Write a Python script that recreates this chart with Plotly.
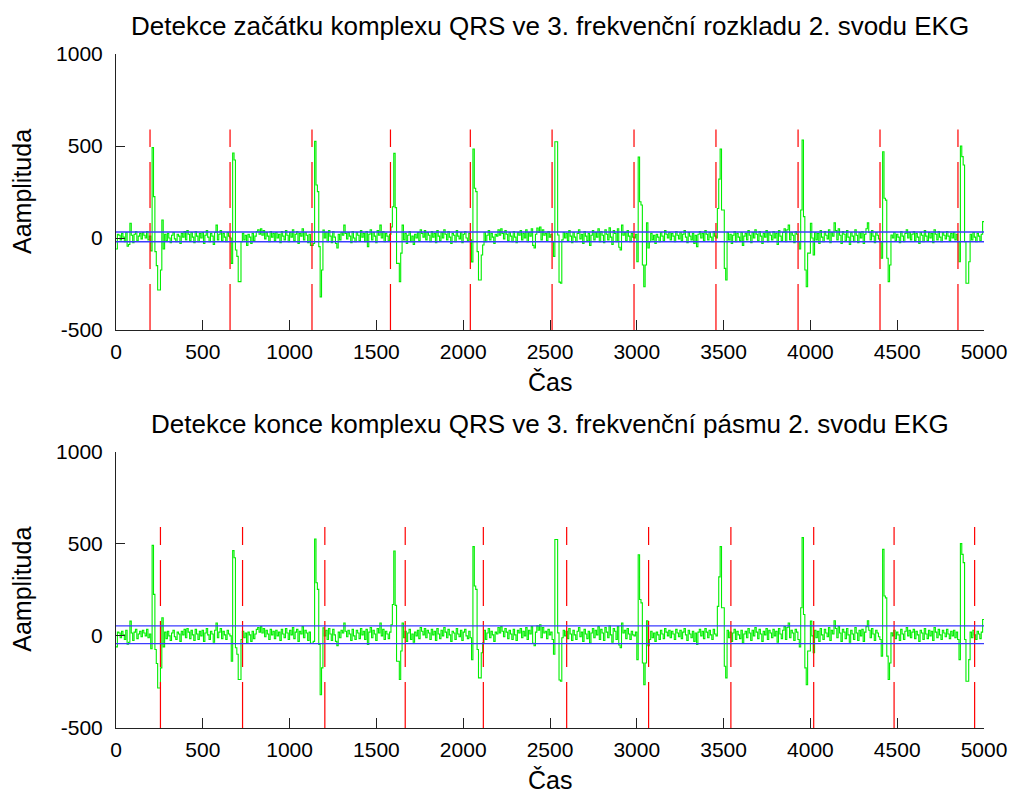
import plotly.graph_objects as go
from plotly.subplots import make_subplots

# ---------------- data ----------------
STEP = 8          # samples per coefficient (3rd level decomposition)
N_SAMPLES = 5000

# level-3 coefficients (one value per 8 samples)
signal = [
    -60, 20, 15, -10, 25, 5, -20, 30, -45, -35, 80, 15, -25, 20, 35, -15, 10, 25, -5, 30, 15, 0, 35, -10, 10,
    -70, 491, 225, -74, -150, -283, -283, -174, 98, -60, 20, -15, 25, 0, -25, 15, 30, -5, -20, 20, 10, -30, 25, 5, 35,
    -10, 40, 20, -15, 30, 5, -25, 35, 10, -20, 25, 0, 30, -30, 15, 40, 5, -20, 25, 10, -35, 30, 70, -10, 20,
    40, -15, 25, 5, -20, 30, 10, 0, -138, 462, 424, -65, -100, -237, -237, -20, 25, -10, 15, -40, 20, 5, -30, 25, -15,
    10, 35, 45, 20, 50, 15, 40, -5, 30, 10, -20, 35, 5, 25, -15, 30, 0, 20, -25, 35, 10, -10, 40, 15, -20,
    30, 5, 45, -15, 20, 35, -30, 25, 10, 50, -10, 30, 15, -25, 20, -40, -40, -30, 525, 288, 252, -47, -320, -174, 43,
    0, 30, -20, 40, 10, -25, 35, 5, -30, -54, 20, -10, 30, 15, 70, 25, -5, 30, 10, -25, 35, 0, -20, 30, 15,
    -15, 40, 5, 25, -20, 35, -47, 20, 45, -10, 30, 10, -25, 40, 15, 70, 0, 35, -20, 25, 10, -15, 20, 60, 170,
    460, 165, -138, -138, -237, -82, 70, -10, 25, -30, 15, 35, -20, 10, -35, 20, 0, 30, -15, 45, 25, 5, 40, -10, 30,
    15, -20, 35, 5, 25, -25, 40, 10, -15, 30, 0, 45, 20, -10, 35, 5, -30, 25, 15, -20, 40, 10, -5, 30, -25,
    20, 35, 0, -15, 25, -10, -130, 484, 270, 252, -74, -228, -228, -92, -38, 30, -20, 15, 40, -10, 25, 5, -30, 20, 10,
    45, 15, 50, 25, -5, 40, 20, -15, 30, 10, -20, 35, 5, -25, 30, 15, 40, -10, 25, 0, 45, -20, 30, 10, 50,
    -40, -54, 20, 54, 30, 60, -10, 45, 15, 25, -15, 35, 5, 20, -20, -100, 523, 523, 16, -240, -246, -10, 30, 0, 25,
    -15, 40, 10, -25, 30, 5, -20, 25, 45, -5, 20, -30, 35, 10, -15, 25, -40, 15, 40, -10, 30, 5, 50, -20, 35,
    15, -25, 45, 20, -10, 55, 5, -35, 40, 25, -20, 50, -50, -65, 70, 15, 30, -15, 40, 10, -20, 25, 5, 0, 20,
    -129, 440, 197, 179, -147, -265, -147, 82, -54, -20, 25, -10, 15, -30, 20, 5, -20, 30, 10, -15, 40, 20, 0, 30, -10,
    25, 10, -20, 35, 15, -5, 30, -15, 20, 40, 5, -25, 30, 10, -10, 25, -30, 15, -47, 20, 35, 0, 25, -15, 40,
    20, -10, 30, 5, -20, 35, 10, 0, 160, 320, 484, 152, 152, -165, -228, 30, -10, 20, -30, 15, 35, -20, 25, 5, -15,
    30, -40, 10, 25, -10, 40, 15, -25, 30, 0, 45, 20, -15, 35, 10, -30, 25, 5, 40, -20, 30, 15, -10, 35, 0,
    25, -35, 40, 10, -15, 30, 50, -20, 45, 70, -10, 30, 15, -25, 35, 20, -20, -60, 152, 533, 116, -174, -265, -82, -82,
    80, 0, -92, 30, -10, 25, -30, 40, 5, -20, 35, 15, -5, 45, -25, 30, 10, 82, 40, -10, 50, 15, -30, 35, 20,
    -15, 40, 5, -35, 30, 10, -20, 45, 15, -25, 30, 0, 35, -30, 20, 50, 82, 30, -10, 40, 10, -25, 30, 15, -5,
    -20, -110, 469, 216, 206, -110, -237, -147, 16, 0, 30, -15, 20, 5, -25, 35, 10, -20, 25, 45, 0, 30, -10, 20, 35,
    -15, 25, 5, -30, 30, 15, -20, 40, 10, -15, 30, 0, 25, -25, 45, 20, -10, 35, 5, -20, 30, 15, -5, 35, 10,
    -15, 25, 0, 30, -10, 20, -20, -129, 500, 442, 397, -20, -246, -246, -129, 20, -10, 30, 5, -20, 25, 10, -15, 20, 89,
]

# detected QRS onsets (top) and QRS ends (bottom), in samples
qrs_onsets = [196, 657, 1129, 1581, 2041, 2512, 2984, 3456, 3929, 4401, 4850]
qrs_ends = [256, 729, 1203, 1666, 2116, 2596, 3068, 3542, 4019, 4482, 4946]
marker_top = 590          # height of the red markers
marker_bottom = -500

# thresholds (blue lines)
thr_top = [33, -20]
thr_bottom = [54, -42]

titles = [
    "Detekce začátku komplexu QRS ve 3. frekvenční rozkladu 2. svodu EKG",
    "Detekce konce komplexu QRS ve 3. frekvenční pásmu 2. svodu EKG",
]
x_label = "Čas"
y_label = "Aamplituda"
x_ticks = [0, 500, 1000, 1500, 2000, 2500, 3000, 3500, 4000, 4500, 5000]
y_ticks = [-500, 0, 500, 1000]

# ---------------- figure ----------------
FONT = "Liberation Sans, Arial, sans-serif"
W, H = 1019, 796
ML, MR, MT, MB = 116, 35, 54, 68
plot_h = H - MT - MB
top_dom = [1 - 276 / plot_h, 1.0]
bot_dom = [0.0, 276.5 / plot_h]

fig = make_subplots(rows=2, cols=1)

xs = [i * STEP for i in range(len(signal))] + [N_SAMPLES]
ys = signal + [signal[-1]]

for row, marks, thr in [(1, qrs_onsets, thr_top), (2, qrs_ends, thr_bottom)]:
    fig.add_trace(go.Scatter(x=xs, y=ys, mode="lines", line=dict(color="#00ee00", width=1.1, shape="hv"),
                             hoverinfo="skip", showlegend=False), row=row, col=1)
    rx, ry = [], []
    for m in marks:
        rx += [m, m, None]
        ry += [marker_bottom, marker_top, None]
    fig.add_trace(go.Scatter(x=rx, y=ry, mode="lines",
                             line=dict(color="#ff0000", width=1.2, dash="46px,15px"),
                             hoverinfo="skip", showlegend=False), row=row, col=1)
    for t in thr:
        fig.add_trace(go.Scatter(x=[0, N_SAMPLES], y=[t, t], mode="lines",
                                 line=dict(color="rgb(60,60,255)", width=1.4),
                                 hoverinfo="skip", showlegend=False), row=row, col=1)

axis_common = dict(showline=True, linecolor="#222", linewidth=1, mirror=False,
                   showgrid=False, zeroline=False, ticks="inside", tickcolor="#222",
                   tickfont=dict(family=FONT, size=21, color="black"))

for r, dom in [(1, top_dom), (2, bot_dom)]:
    fig.update_xaxes(range=[0, N_SAMPLES], tickvals=x_ticks, ticktext=[str(v) for v in x_ticks],
                     ticklen=10, domain=[0, 1], ticklabelstandoff=3, **axis_common, row=r, col=1)
    fig.update_yaxes(range=[-500, 1000], tickvals=y_ticks, ticktext=[str(v) for v in y_ticks],
                     ticklen=9, domain=dom, ticklabelstandoff=8, **axis_common, row=r, col=1)

ann = []
for dom, title in [(top_dom, titles[0]), (bot_dom, titles[1])]:
    ann.append(dict(text=title, xref="paper", yref="paper", x=0.5, y=dom[1], xanchor="center",
                    yanchor="middle", yshift=28, showarrow=False,
                    font=dict(family=FONT, size=26, color="black")))
    ann.append(dict(text=x_label, xref="paper", yref="paper", x=0.5, y=dom[0], xanchor="center",
                    yanchor="middle", yshift=-52, showarrow=False,
                    font=dict(family=FONT, size=25, color="black")))
    ann.append(dict(text=y_label, xref="paper", yref="paper", x=0, xshift=-94, y=(dom[0] + dom[1]) / 2,
                    xanchor="center", yanchor="middle", textangle=-90, showarrow=False,
                    font=dict(family=FONT, size=25, color="black")))

fig.update_layout(width=W, height=H, margin=dict(l=ML, r=MR, t=MT, b=MB),
                  paper_bgcolor="white", plot_bgcolor="white", annotations=ann)

fig.write_html("out.html", config={"displayModeBar": False})
